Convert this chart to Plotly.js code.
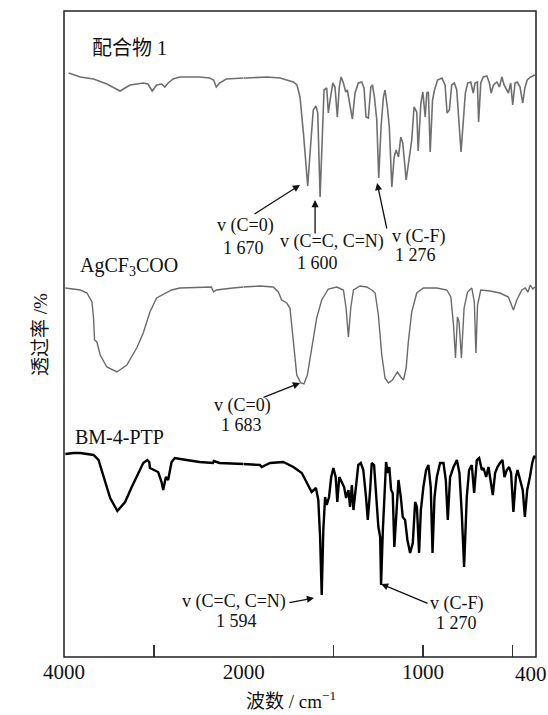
<!DOCTYPE html>
<html>
<head>
<meta charset="utf-8">
<script src="https://cdn.plot.ly/plotly-3.0.1.min.js"></script>
<style>
  html, body { margin: 0; padding: 0; background: #fff; }
  #chart { width: 548px; height: 715px; }
</style>
</head>
<body>
<div id="chart"></div>
<script>
// ---------------- data (wavenumber / cm-1, relative transmittance) ----------------
const seriesNames = ["配合物 1", "AgCF<sub>3</sub>COO", "BM-4-PTP"];

const wnComplex = [3948,3818,3671,3523,3376,3265,3118,3066,3018,2969,2914,2878,2841,2786,2711,2490,2379,2335,2305,2269,2195,2000,
  1983,1872,1797,1742,1723,1703,1686,1667,1643,1626,1612,1597,1587,1574,1561,1552,1537,1528,1518,1503,1491,1478,1467,1457,1444,1431,1422,
  1407,1394,1379,1361,1342,1329,1318,1305,1291,1282,1271,1258,1247,1234,1221,1212,1199,1188,1174,1161,1150,1137,1124,1113,1094,1076,1063,
  1050,1035,1027,1012,1001,988,979,970,960,947,936,919,895,877,866,853,840,825,812,799,788,775,764,751,734,720,710,697,690,678,664,644,630,
  620,607,588,574,560,548,533,524,511,500,487,474,459,444,432,419,400,385,376];
const tComplex = [584,580,578,573,566,572,574,573,566,572,573,570,574,578,580,580,579,577,570,574,578,579,
  579,580,579,576,575,572,560,524,471,514,547,551,544,460,530,567,569,544,557,574,570,540,570,580,574,565,567,
  550,538,564,574,575,569,540,539,570,572,560,537,479,530,560,567,550,530,470,500,507,500,520,514,477,502,517,
  550,545,506,554,565,540,564,565,505,557,567,577,579,572,544,547,572,574,567,530,505,537,564,574,575,564,574,575,535,574,580,581,574,
  564,572,575,570,580,572,567,564,574,552,574,575,570,554,569,577,580,581,582];

const wnSalt = [3985,3818,3744,3689,3671,3660,3634,3597,3523,3412,3301,3191,3118,3044,2969,2859,2803,2711,2490,2360,2335,2305,2121,2000,
  1909,1835,1807,1788,1760,1742,1723,1704,1682,1664,1645,1621,1593,1565,1528,1481,1444,1429,1416,1403,1388,1351,1314,1286,1267,1249,1230,
  1212,1193,1171,1143,1124,1109,1094,1082,1063,1035,998,923,867,845,830,819,808,799,786,771,752,728,714,705,696,678,626,571,524,496,477,
  449,430,415,402,388,376];
const tSalt = [369,367,364,355,339,317,315,302,290,285,292,309,324,345,359,364,367,369,370,370,365,367,369,370,
  371,370,365,357,354,349,315,282,274,273,282,309,339,357,368,370,367,349,320,349,367,371,370,367,364,342,302,
  279,274,277,285,280,277,289,315,345,364,369,369,367,360,332,299,340,335,299,349,365,369,355,304,352,367,366,364,360,347,357,
  367,369,365,372,368,370];

const wnLigand = [3985,3893,3818,3744,3671,3616,3561,3486,3406,3320,3246,3173,3118,3073,3051,3044,2988,2952,2914,2896,2866,2841,2803,2767,
  2637,2490,2343,2332,2269,2000,
  1909,1900,1853,1779,1723,1676,1648,1621,1597,1584,1574,1565,1556,1546,1537,1524,1512,1500,1487,1478,1467,1453,1440,1429,1416,1407,1397,
  1388,1373,1361,1347,1333,1318,1308,1295,1286,1273,1262,1249,1239,1234,1224,1215,1206,1196,1188,1178,1169,1160,1146,1137,1124,1113,1100,
  1087,1072,1057,1044,1034,1022,1012,998,983,970,957,947,936,923,905,886,873,862,849,830,811,797,784,771,756,743,728,715,700,687,672,663,
  648,635,622,611,598,585,571,557,546,533,520,509,496,482,473,459,444,432,419,404,391,380,372];
const tLigand = [203,204,204,203,202,197,180,159,146,155,170,184,194,197,195,189,187,185,175,167,180,177,195,199,
  197,195,194,196,194,193,
  192,190,194,195,190,184,174,165,169,157,120,62,127,160,152,160,180,189,180,155,180,174,170,159,167,150,172,
  147,175,192,194,187,160,137,167,194,192,160,130,120,72,127,167,195,184,190,167,164,110,150,177,160,140,137,
  117,104,114,155,150,104,147,170,187,192,170,104,160,180,194,194,177,137,180,190,197,184,144,90,160,187,192,164,197,199,187,189,
  180,190,177,162,184,190,194,197,180,187,190,184,145,180,187,177,167,140,167,180,194,201,199];

const ticksLeft = [4000, 3000, 2000];
const tickTextLeft = ['4000', '', '2000'];
const ticksRight = [1500, 1000, 500];
const tickTextRight = ['', '1000', ''];

// ---------------- helpers ----------------
const SPLIT = 2000;            // axis scale changes at 2000 cm-1
function part(wn, t, left) {
  const xs = [], ys = [];
  wn.forEach((w, i) => {
    if (left ? w >= SPLIT : w <= SPLIT) { xs.push(w); ys.push(t[i]); }
  });
  return { xs, ys };
}
const styles = [
  { color: '#6f6f6f', width: 1.6 },
  { color: '#6a6a6a', width: 1.4 },
  { color: '#000000', width: 2.4 }
];
const spectra = [[wnComplex, tComplex], [wnSalt, tSalt], [wnLigand, tLigand]];
const traces = [];
spectra.forEach(([wn, t], k) => {
  [true, false].forEach(left => {
    const p = part(wn, t, left);
    traces.push({
      x: p.xs, y: p.ys, type: 'scatter', mode: 'lines',
      xaxis: left ? 'x' : 'x2', yaxis: 'y',
      line: { color: styles[k].color, width: styles[k].width },
      hoverinfo: 'skip', name: seriesNames[k]
    });
  });
});

// pixel-to-paper helpers for text placement (plot area 64..536 x 11..657)
const L = 64, R = 536, T = 11, B = 657;
const PX = x => (x - L) / (R - L);
const PY = y => (B - y) / (B - T);
const serif = "Liberation Serif, Times New Roman, Times, serif";
const cjk = "Liberation Serif, Noto Sans CJK SC, serif";

function txt(text, x, y, size, anchor, extra, fam) {
  return Object.assign({
    text, xref: 'paper', yref: 'paper', x: PX(x), y: PY(y),
    xanchor: anchor || 'center', yanchor: 'middle', showarrow: false,
    font: { family: fam || serif, size: size || 18, color: '#111' }
  }, extra || {});
}
function arrow(xref, x, y, ax, ay) {
  return {
    text: '', xref, yref: 'y', x, y, ax, ay, axref: 'pixel', ayref: 'pixel',
    showarrow: true, arrowhead: 2, arrowsize: 1.1, arrowwidth: 1.3, arrowcolor: '#111', standoff: 0, startstandoff: 0
  };
}

const annotations = [
  txt(seriesNames[0], 90, 48, 20, 'left', null, cjk),
  txt(seriesNames[1], 78, 266, 20, 'left'),
  txt(seriesNames[2], 73, 437, 20, 'left'),

  txt('v (C=0)', 245, 226), txt('1 670', 243, 248),
  txt('v (C=C, C=N)', 331.5, 241), txt('1 600', 317, 263),
  txt('v (C-F)', 418.5, 236), txt('1 276', 415, 255),
  txt('v (C=0)', 242, 406), txt('1 683', 241, 425),
  txt('v (C=C, C=N)', 234, 601), txt('1 594', 236.5, 620.5),
  txt('v (C-F)', 456.5, 603), txt('1 270', 456, 622.5),

  arrow('x2', 1686, 472, -47, 30),
  arrow('x2', 1602, 457, 0, 35),
  arrow('x2', 1256, 474, 10, 47),
  arrow('x2', 1686, 274, -38, 15),
  arrow('x2', 1608, 59, -26, 5),
  arrow('x2', 1234, 73, 48, 20),

  { text: '400', xref: 'x2', yref: 'paper', x: 400, y: 0, yanchor: 'top', xanchor: 'center', yshift: -3,
    showarrow: false, font: { family: serif, size: 21, color: '#111' } },
  txt('波数 / cm<sup>−1</sup>', 291, 700, 19, 'center', null, cjk),
  txt('透过率 /%', 40, 335, 19, 'center', { textangle: -90 }, cjk)
];

const axisCommon = {
  ticks: 'inside', ticklen: 12, tickwidth: 1.5, tickcolor: '#333', ticklabelstandoff: 0,
  showgrid: false, zeroline: false, showline: false, anchor: 'y',
  tickfont: { family: serif, size: 21, color: '#111' }, fixedrange: true, tickmode: 'array'
};

const layout = {
  width: 548, height: 715,
  margin: { l: L, r: 548 - R, t: T, b: 715 - B, pad: 0 },
  paper_bgcolor: '#fff', plot_bgcolor: '#fff', showlegend: false,
  xaxis: Object.assign({}, axisCommon, {
    domain: [0, PX(243.7)], range: [4000, 2000], tickvals: ticksLeft, ticktext: tickTextLeft
  }),
  xaxis2: Object.assign({}, axisCommon, {
    domain: [PX(243.7), 1], range: [2000, 370], tickvals: ticksRight, ticktext: tickTextRight
  }),
  yaxis: { range: [0, B - T], showticklabels: false, ticks: '', showgrid: false, zeroline: false, showline: false, fixedrange: true },
  shapes: [{ type: 'rect', xref: 'paper', yref: 'paper', x0: 0, y0: 0, x1: 1, y1: 1,
             line: { color: '#222', width: 1.5 }, layer: 'above' }],
  annotations
};

Plotly.newPlot('chart', traces, layout, { staticPlot: true, displayModeBar: false });
</script>
</body>
</html>
